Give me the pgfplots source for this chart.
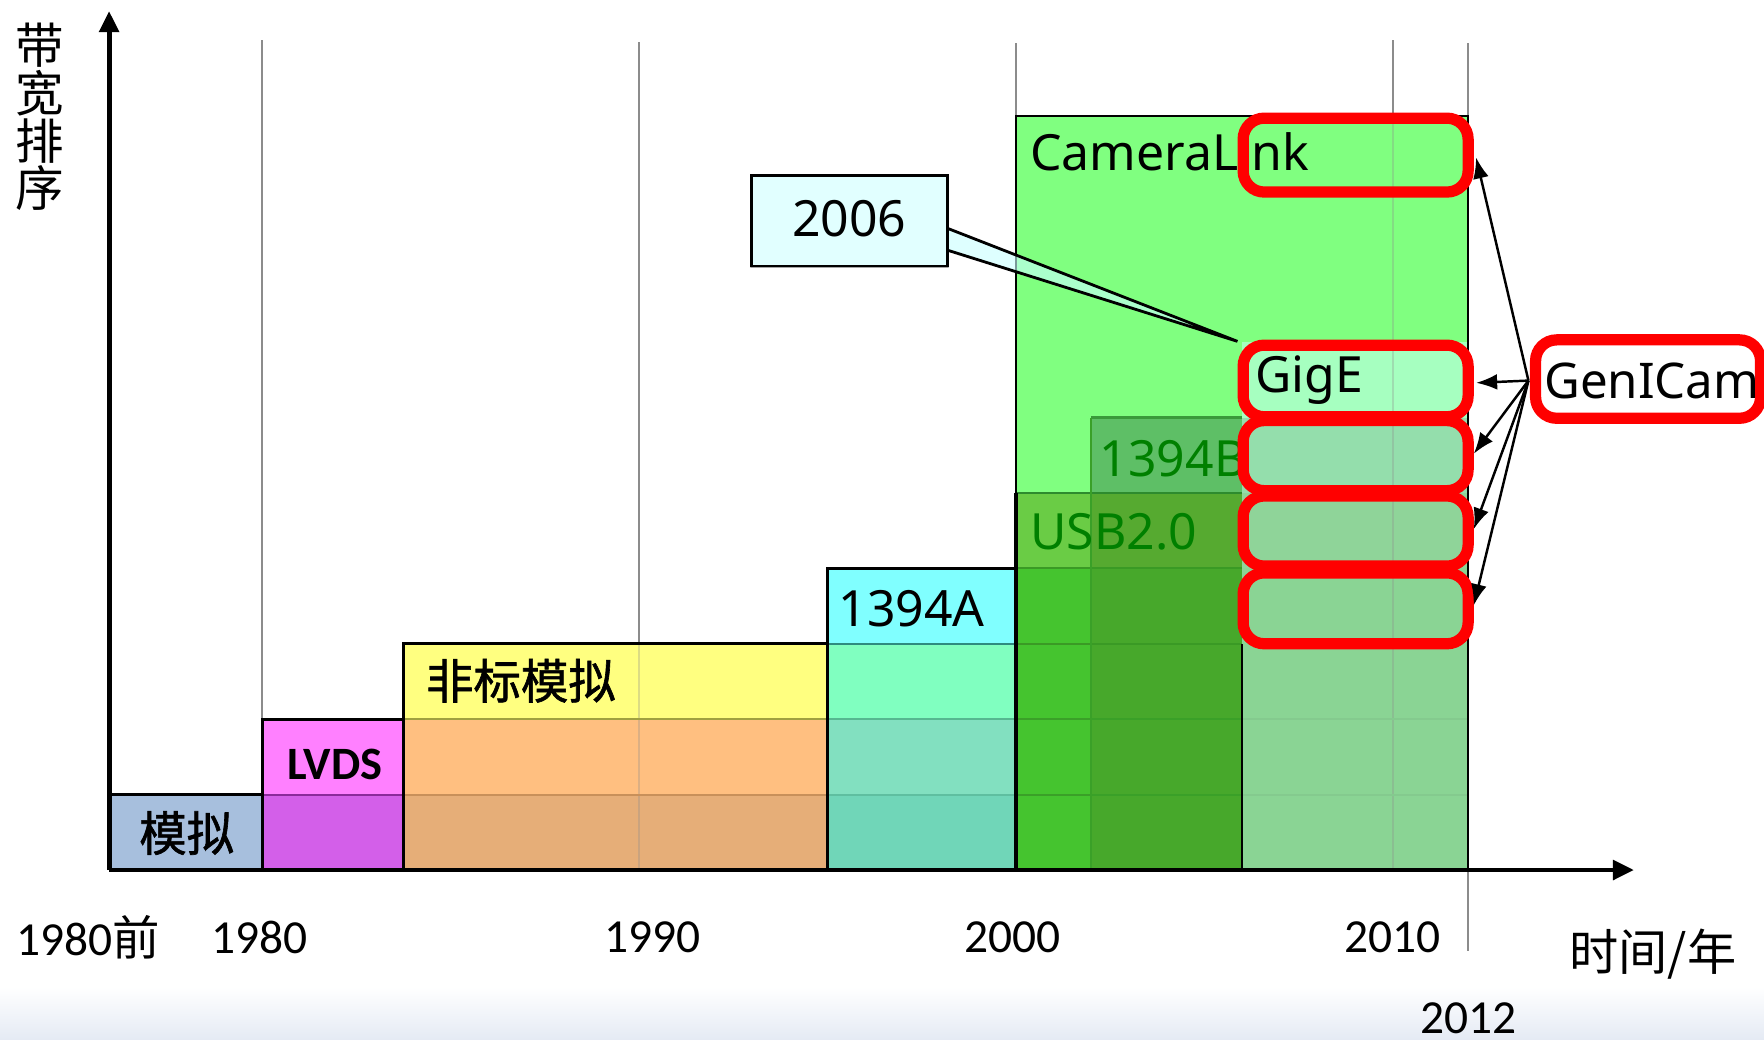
\documentclass[border=0pt]{standalone}
\usepackage{pgfplots}
\pgfplotsset{compat=1.18}
\usepackage{fontspec}
\setmainfont{Noto Sans}
\newfontfamily\cjk{Noto Sans CJK SC}
\newfontfamily\cjkb[FakeBold=1.3]{Noto Sans CJK SC}
\newfontfamily\carl{Carlito}
\usetikzlibrary{arrows.meta}
\definecolor{bgB}{HTML}{E4EAF4}
\definecolor{gridg}{HTML}{8C8C8C}
\definecolor{txtg}{HTML}{008000}
\definecolor{callc}{RGB}{200,255,255}
\definecolor{callb}{RGB}{225,255,255}
\definecolor{cA}{HTML}{A7BFDD}
\definecolor{cB}{HTML}{D35FE9}
\definecolor{cC}{HTML}{FF80FF}
\definecolor{cD}{HTML}{E6AE78}
\definecolor{cE}{HTML}{FFBF80}
\definecolor{cF}{HTML}{FFFF80}
\definecolor{cG}{HTML}{70D6B8}
\definecolor{cH}{HTML}{82E0C0}
\definecolor{cI}{HTML}{80FFC0}
\definecolor{cJ}{HTML}{80FFFF}
\definecolor{cK}{HTML}{45C42F}
\definecolor{cL}{HTML}{6ACC45}
\definecolor{cM}{HTML}{80FF80}
\definecolor{cN}{HTML}{47A82B}
\definecolor{cO}{HTML}{56AA30}
\definecolor{cP}{HTML}{5EBF66}
\definecolor{cQ}{HTML}{8AD494}
\definecolor{cR}{HTML}{8FD499}
\definecolor{cS}{HTML}{94DEAC}
\definecolor{cT}{HTML}{A6FFC0}
\definecolor{lA}{HTML}{8B2A9B}
\definecolor{lB}{HTML}{C8905A}
\definecolor{lC}{HTML}{A0A040}
\definecolor{lD}{HTML}{5FBFA0}
\definecolor{lE}{HTML}{55B890}
\definecolor{lF}{HTML}{2E8B80}
\definecolor{lG}{HTML}{3AA028}
\definecolor{lH}{HTML}{3A9A25}
\definecolor{lI}{HTML}{2E8B2E}
\definecolor{lJ}{HTML}{3A9A3A}
\definecolor{lK}{HTML}{84CA8E}
\newcommand{\cell}[5]{\addplot[draw=none,fill=#5] coordinates {(#1,#3) (#2,#3) (#2,#4) (#1,#4)} -- cycle;}
\newcommand{\hl}[4]{\addplot[draw=#4,line width=0.6pt] coordinates {(#1,#3) (#2,#3)};}
\newcommand{\redbox}[2]{\addplot[draw=red,line width=3.2pt,rounded corners=6pt] coordinates {(2009,#2) (2012,#2) (2012,#1) (2006.03,#1) (2006.03,#2)} -- cycle;}
\begin{document}
\begin{tikzpicture}
\begin{axis}[width=17.64cm,height=10.40cm,scale only axis,hide axis,clip=false,
  xmin=1973.045,xmax=2019.851,ymin=-2.254,ymax=11.537]
\coordinate (SW) at (rel axis cs:0,0);
\coordinate (NE) at (rel axis cs:1,1);
% background gradient at the bottom
\addplot[draw=none,top color=white,bottom color=bgB] coordinates {(1973.045,-1.55) (2019.851,-1.55) (2019.851,-2.254) (1973.045,-2.254)} -- cycle;
% grid lines
\addplot[gridg,line width=0.5pt] coordinates {(1980,0) (1980,11.01)};
\addplot[gridg,line width=0.5pt] coordinates {(1990,0) (1990,10.98)};
\addplot[gridg,line width=0.5pt] coordinates {(2000,0) (2000,10.96)};
\addplot[gridg,line width=0.5pt] coordinates {(2010,0) (2010,11.01)};
\addplot[gridg,line width=0.5pt] coordinates {(2012,-1.07) (2012,10.96)};
% cells
\cell{1976}{1980}{0}{1}{cA}
\cell{1980}{1983.75}{0}{1}{cB}
\cell{1980}{1983.75}{1}{2}{cC}
\cell{1983.75}{1995}{0}{1}{cD}
\cell{1983.75}{1995}{1}{2}{cE}
\cell{1983.75}{1995}{2}{3}{cF}
\cell{1995}{2000}{0}{1}{cG}
\cell{1995}{2000}{1}{2}{cH}
\cell{1995}{2000}{2}{3}{cI}
\cell{1995}{2000}{3}{4}{cJ}
\cell{2000}{2002}{0}{4}{cK}
\cell{2000}{2002}{4}{5}{cL}
\cell{2000}{2002}{5}{10}{cM}
\cell{2002}{2006}{0}{4}{cN}
\cell{2002}{2006}{4}{5}{cO}
\cell{2002}{2006}{5}{6}{cP}
\cell{2002}{2006}{6}{10}{cM}
\cell{2006}{2012}{0}{4}{cQ}
\cell{2006}{2012}{4}{5}{cR}
\cell{2006}{2012}{5}{6}{cS}
\cell{2006}{2012}{6}{7}{cT}
\cell{2006}{2012}{7}{10}{cM}
% faint grid inside boxes
\addplot[gridg,opacity=0.3,line width=0.5pt] coordinates {(1990,0) (1990,3)};
\addplot[gridg,opacity=0.3,line width=0.5pt] coordinates {(2010,0) (2010,10)};
% internal lines
\hl{1980}{1983.75}{1}{lA}
\hl{1983.75}{1995}{1}{lB}
\hl{1983.75}{1995}{2}{lC}
\hl{1995}{2000}{1}{lD}
\hl{1995}{2000}{2}{lE}
\hl{1995}{2000}{3}{lF}
\hl{2000}{2006}{1}{lG}
\hl{2000}{2006}{2}{lG}
\hl{2000}{2006}{3}{lH}
\hl{2000}{2006}{4}{lH}
\hl{2000}{2006}{5}{lI}
\hl{2002}{2006}{6}{lJ}
\hl{2006}{2012}{1}{lK}
\hl{2006}{2012}{2}{lK}
\addplot[draw=lG,line width=0.6pt] coordinates {(2002,0) (2002,6)};
% black outlines
\addplot[black,line width=0.8pt] coordinates {(1976,1) (1980,1) (1980,0)};
\addplot[black,line width=0.8pt] coordinates {(1980,1) (1980,2) (1983.75,2) (1983.75,0)};
\addplot[black,line width=0.8pt] coordinates {(1983.75,2) (1983.75,3) (1995,3) (1995,0)};
\addplot[black,line width=0.8pt] coordinates {(1995,3) (1995,4) (2000,4)};
\addplot[black,line width=1.1pt] coordinates {(2000,0) (2000,5)};
\addplot[black,line width=0.7pt] coordinates {(2000,5) (2000,10) (2012,10) (2012,0)};
\addplot[black,line width=0.8pt] coordinates {(2006,0) (2006,3)};
% axes
\addplot[black,line width=1.4pt,-{Triangle[length=6pt,width=5.5pt]}] coordinates {(1975.94,0) (1975.94,11.39)};
\addplot[black,line width=1.4pt,-{Triangle[length=6pt,width=5.5pt]}] coordinates {(1975.94,0) (2016.4,0)};
% texts in boxes
\node[font=\fontsize{13.5}{16}\selectfont\cjkb] at (axis cs:1978.0,0.49) {模拟};
\node[font=\fontsize{13.2}{16}\selectfont\carl\bfseries] at (axis cs:1981.94,1.40) {LVDS};
\node[anchor=west,inner sep=0pt,font=\fontsize{13.5}{16}\selectfont\cjkb] at (axis cs:1984.33,2.51) {非标模拟};
\node[anchor=west,inner sep=0pt,font=\fontsize{14.2}{17}\selectfont] at (axis cs:1995.28,3.46) {1394A};
\node[anchor=west,inner sep=0pt,text=txtg,font=\fontsize{14.2}{17}\selectfont] at (axis cs:2000.36,4.49) {USB2.0};
\node[anchor=west,inner sep=0pt,text=txtg,font=\fontsize{14.2}{17}\selectfont] at (axis cs:2002.21,5.46) {1394B};
\node[anchor=west,inner sep=0pt,font=\fontsize{14.2}{17}\selectfont] at (axis cs:2006.33,6.49) {GigE};
\node[anchor=west,inner sep=0pt,font=\fontsize{14.2}{17}\selectfont] at (axis cs:2000.36,9.52) {CameraLink};
% red boxes
\redbox{8.99}{9.97}
\redbox{6.01}{6.96}
\redbox{5.03}{5.96}
\redbox{4.03}{4.96}
\redbox{3.00}{3.94}
% callout 2006
\addplot[draw=black,line width=0.8pt,fill=callc,fill opacity=0.6] coordinates {(1992.99,9.21) (1998.18,9.21) (1998.18,8.51) (2005.88,7.01) (1998.18,8.22) (1998.18,8.01) (1992.99,8.01)} -- cycle;
\addplot[draw=black,line width=0.8pt,fill=callb] coordinates {(1992.99,9.21) (1998.18,9.21) (1998.18,8.01) (1992.99,8.01)} -- cycle;
\node[font=\fontsize{14.2}{17}\selectfont] at (axis cs:1995.58,8.64) {2006};
% GenICam
\addplot[draw=red,fill=white,line width=3.2pt,rounded corners=6pt] coordinates {(2017,7.03) (2019.76,7.03) (2019.76,5.99) (2013.79,5.99) (2013.79,7.03)} -- cycle;
\node[anchor=west,inner sep=0pt,font=\fontsize{14}{17}\selectfont] at (axis cs:2014.0,6.49) {GenICam};
% arrows
\addplot[black,line width=0.7pt,-{Latex[length=6pt,width=4.5pt]}] coordinates {(2013.6,6.49) (2012.21,9.45)};
\addplot[black,line width=0.7pt,-{Latex[length=6pt,width=4.5pt]}] coordinates {(2013.6,6.49) (2012.21,6.46)};
\addplot[black,line width=0.7pt,-{Latex[length=6pt,width=4.5pt]}] coordinates {(2013.6,6.49) (2012.15,5.52)};
\addplot[black,line width=0.7pt,-{Latex[length=6pt,width=4.5pt]}] coordinates {(2013.6,6.49) (2012.15,4.52)};
\addplot[black,line width=0.7pt,-{Latex[length=6pt,width=4.5pt]}] coordinates {(2013.6,6.49) (2012.15,3.51)};
% axis labels
\node[anchor=west,inner sep=0pt,font=\fontsize{13.5}{16}\selectfont] at (axis cs:1973.46,-0.896) {{\carl 1980}{\cjk 前}};
\node[font=\fontsize{13.5}{16}\selectfont\carl] at (axis cs:1979.94,-0.896) {1980};
\node[font=\fontsize{13.5}{16}\selectfont\carl] at (axis cs:1990.36,-0.896) {1990};
\node[font=\fontsize{13.5}{16}\selectfont\carl] at (axis cs:1999.9,-0.896) {2000};
\node[font=\fontsize{13.5}{16}\selectfont\carl] at (axis cs:2010.0,-0.896) {2010};
\node[inner sep=1pt,font=\fontsize{13.5}{16}\selectfont\carl] at (axis cs:2012.0,-1.96) {2012};
\node[font=\fontsize{14}{17}\selectfont\cjk] at (axis cs:2016.9,-1.12) {时间/年};
\node[align=center,inner sep=0pt,font=\fontsize{13.8}{13.6}\selectfont\cjk] at (axis cs:1974.09,9.985) {带\\宽\\排\\序};
\end{axis}
\pgfresetboundingbox
\path (SW) rectangle (NE);
\end{tikzpicture}
\end{document}
